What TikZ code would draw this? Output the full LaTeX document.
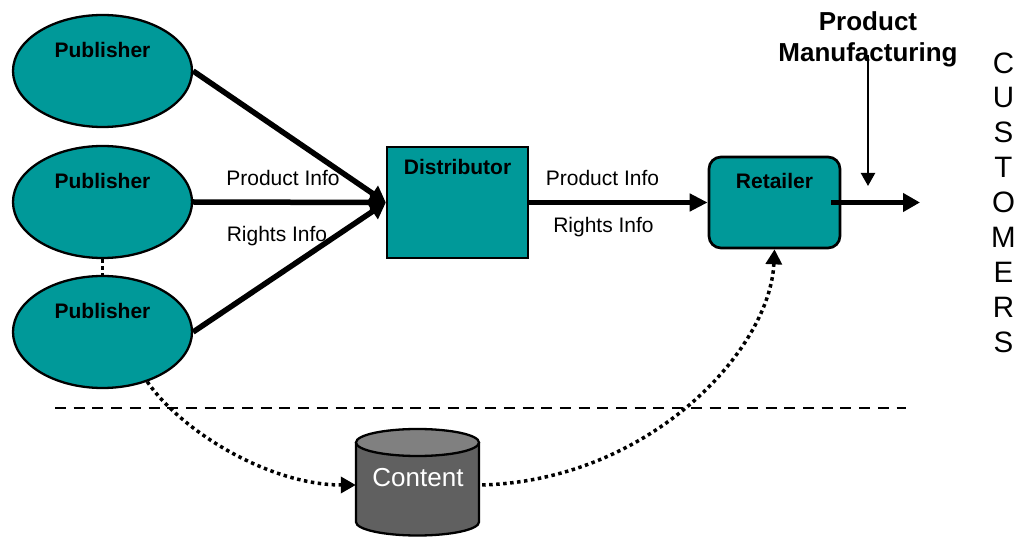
\documentclass[tikz,border=0pt]{standalone}
\usepackage{fontspec}
\setmainfont{Liberation Sans}
\usetikzlibrary{arrows.meta,shapes.geometric}
\definecolor{myteal}{RGB}{0,153,153}
\definecolor{cylbody}{RGB}{96,96,96}
\definecolor{cyltop}{RGB}{128,128,128}
\begin{document}
\begin{tikzpicture}[x=1pt,y=-1pt,
  pub/.style={ellipse,draw,line width=2.3pt,fill=myteal,minimum width=179pt,minimum height=112pt,inner sep=0pt},
  boxnode/.style={draw,line width=2.3pt,fill=myteal,inner sep=0pt},
  boldtxt/.style={font=\fontsize{21}{25}\selectfont\bfseries,anchor=base,inner sep=0pt},
  lbl/.style={font=\fontsize{21}{25}\selectfont,anchor=base,inner sep=0pt},
  thick arrow/.style={line width=5.5pt,-{Triangle[length=16pt,width=18pt]}},
  dotarrow/.style={line width=3.5pt,dash pattern=on 3.5pt off 3.5pt,-{Triangle[length=15pt,width=16pt]}}
]
\useasboundingbox (0,0) rectangle (1021,537);

% publishers
\node[pub] (pub1) at (102.5,71) {};
\node[pub] (pub2) at (102.5,202) {};
\node[pub] (pub3) at (102.5,332) {};
\node[boldtxt] (tpub1) at (102.5,58) {Publisher};
\node[boldtxt] (tpub2) at (102.5,188.5) {Publisher};
\node[boldtxt] (tpub3) at (102.5,319) {Publisher};
\draw[line width=3.5pt,dash pattern=on 3.5pt off 3.5pt] (pub2.south) -- (pub3.north);

% distributor and retailer
\node[boxnode,minimum width=141pt,minimum height=111pt] (dist) at (457.5,202.5) {};
\node[boldtxt] (tdist) at (457.5,175) {Distributor};
\node[boxnode,line width=2.7pt,rounded corners=12pt,minimum width=131pt,minimum height=91pt] (ret) at (774.5,202.5) {};
\node[boldtxt] (tret) at (774.5,189) {Retailer};

% arrows into distributor
\draw[thick arrow] (pub1.east) -- (dist.west);
\draw[thick arrow] (pub2.east) -- (dist.west);
\draw[thick arrow] (pub3.east) -- (dist.west);
\node[lbl] (pi1) at (283,186) {Product Info};
\node[lbl] (ri1) at (277,242) {Rights Info};

% distributor to retailer
\draw[line width=5.5pt,-{Triangle[length=18pt,width=17pt]}] (dist.east) -- (ret.west);
\node[lbl] (pi2) at (602.5,186) {Product Info};
\node[lbl] (ri2) at (603.5,233) {Rights Info};

% retailer to customers
\coordinate (custin) at (920,202.5);
\draw[line width=5.5pt,-{Triangle[length=17pt,width=18pt]}] ([xshift=-10pt]ret.east) -- (custin);

% product manufacturing
\node[font=\fontsize{26}{31}\selectfont\bfseries,align=center,inner sep=0pt] (pm) at (868,39) {Product\\Manufacturing};
\coordinate (pmtop) at (868,55);
\coordinate (pmbot) at (868,186);
\draw[line width=2.2pt,-{Triangle[length=13pt,width=14pt]}] (pmtop) -- (pmbot);

% customers
\node[font=\fontsize{29.5}{34.9}\selectfont,align=center,inner sep=0pt] (cust) at (1003.5,202.5) {C\\U\\S\\T\\O\\M\\E\\R\\S};

% dashed separator
\coordinate (dl) at (55,408);
\coordinate (dr) at (906,408);
\draw[line width=2.5pt,dash pattern=on 11pt off 7.7pt] (dl) -- (dr);

% content cylinder
\fill[cylbody] (356,442.5) -- (356,522) arc[start angle=180,end angle=360,x radius=61.5pt,y radius=13.5pt] -- (479,442.5) -- cycle;
\draw[line width=2.3pt] (356,442.5) -- (356,522) arc[start angle=180,end angle=360,x radius=61.5pt,y radius=13.5pt] -- (479,442.5);
\draw[line width=2.3pt,fill=cyltop] (417.5,442.5) ellipse [x radius=61.5pt,y radius=13.5pt];
\node[font=\fontsize{26}{31}\selectfont,text=white,anchor=base,inner sep=0pt] (tcontent) at (418,486) {Content};
\node[minimum width=123pt,minimum height=20pt,inner sep=0pt] (content) at (417.5,485) {};

% dotted flows
\draw[dotarrow] (pub3.-48) .. controls (182,432) and (270,485) .. (content.west);
\draw[dotarrow] ([xshift=3pt]content.east) .. controls (650,480) and (770,350) .. (ret.south);
\end{tikzpicture}
\end{document}
